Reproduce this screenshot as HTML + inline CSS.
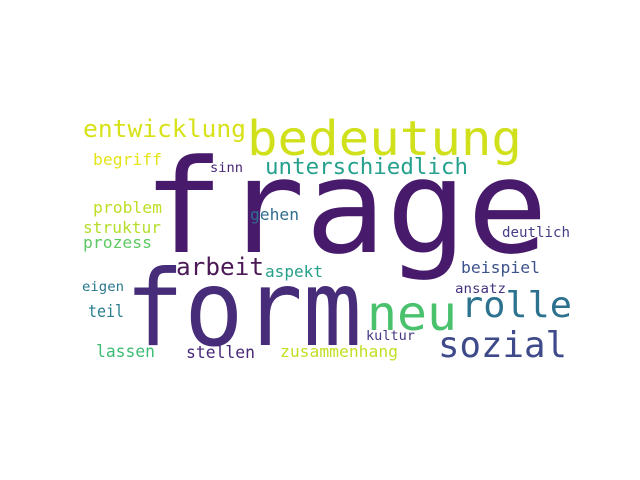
<!DOCTYPE html>
<html><head><meta charset="utf-8"><style>
html,body{margin:0;padding:0;background:#fff;}
svg{display:block;}
text{font-family:"DejaVu Sans Mono","Liberation Mono",monospace;}
</style></head><body>
<svg width="640" height="480" viewBox="0 0 640 480">
<rect width="640" height="480" fill="#fff"/>
<g id="words"></g>
</svg>
<script>
const words=["frage","form","bedeutung","entwicklung","unterschiedlich","begriff","sinn","problem","gehen","struktur","prozess","deutlich","arbeit","aspekt","beispiel","eigen","ansatz","neu","rolle","teil","sozial","kultur","lassen","stellen","zusammenhang"];
const sizes=[130,105,48,24,22,16,13,16,16,16,16,14,24,16,16,13,13,48,36,17,36,13,17,17,16];
const colors=["#481a6c","#472c7a","#d0e11c","#d8e219","#25a18e","#e5e419","#482576","#bddf26","#2f6c8e","#b5de2b","#5ec962","#433e85","#4b1a56","#26a08a","#3b528b","#2a788e","#46337f","#4ac16d","#2c728e","#287d8e","#3e4a89","#443983","#3dbc74","#482878","#c2df23"];
const xs=[143,125,247,83,265,93,210,93,250,83,83,502,176,265,461,82,455,367,461,88,438,366,96,186,280];
const ys=[252,345,155,137,174,165,172,213,220,233,248,237,275,277,273,291,293,330,317,317,357,340,357,358,357];
const ws=[405,237,275,163,203,69,33,69,49,78,69,68,88,58,79,42,51,90,111,36,129,49,59,69,118];
const g=document.getElementById('words');
words.forEach((w,i)=>{
 const t=document.createElementNS('http://www.w3.org/2000/svg','text');
 
 
 t.setAttribute('x',xs[i]);t.setAttribute('y',ys[i]);
 t.setAttribute('font-size',sizes[i]);t.setAttribute('fill',colors[i]);
 t.setAttribute('textLength',ws[i]);t.setAttribute('lengthAdjust','spacingAndGlyphs');
 t.textContent=w;g.appendChild(t);
});
</script>
</body></html>
